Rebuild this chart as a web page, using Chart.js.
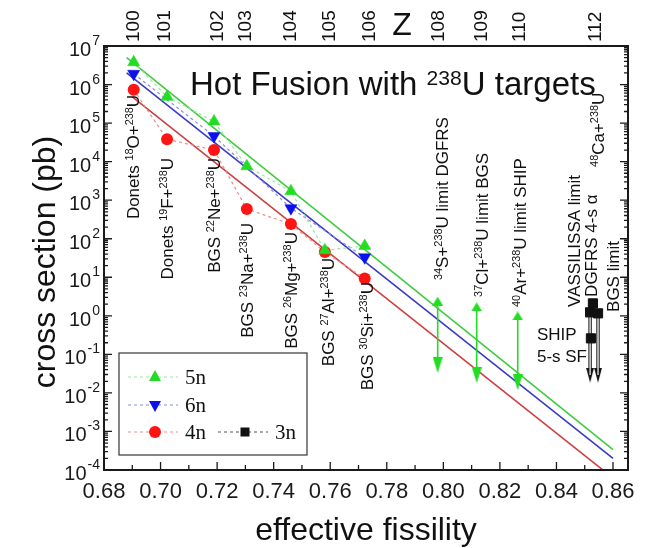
<!DOCTYPE html>
<html>
<head>
<meta charset="utf-8">
<script src="https://cdn.jsdelivr.net/npm/chart.js@4"></script>
<style>
  html, body { margin: 0; padding: 0; background: #fff; }
  #chart { display: block; }
</style>
</head>
<body>
<canvas id="chart" width="645" height="548"></canvas>
<script>
// cross sections (pb) against effective fissility
const fiss5n = [0.6905, 0.7023, 0.7189, 0.7305, 0.7461, 0.7581, 0.7722];
const sigma5n = [3.8e6, 4.8e5, 1.1e5, 7.6e3, 1.7e3, 50, 65];
const fiss6n = [0.6905, 0.7189, 0.7461, 0.7722];
const sigma6n = [1.9e6, 4.6e4, 620, 33];
const fiss4n = [0.6905, 0.7023, 0.7189, 0.7305, 0.7461, 0.7581, 0.7722];
const sigma4n = [7.3e5, 3.8e4, 2.0e4, 590, 240, 45, 9.3];
const fiss3n = [0.8529, 0.8519, 0.8547, 0.8522];
const sigma3n = [2.1, 1.23, 1.16, 0.26];

// straight-line systematics
const fitFiss = [0.688, 0.86];
const fit5n = [5e6, 3.4e-4];
const fit6n = [2e6, 2e-4];
const fitFiss4n = [0.69, 0.86];
const fit4n = [4.8e5, 6.2e-5];

// upper limits (green double arrows) and 48Ca arrows
const limitFiss = [0.798, 0.8118, 0.8263];
const limitHigh = [2.4, 1.7, 0.99];
const limitLow = [0.053, 0.029, 0.019];
const arrowFiss3n = [0.8519, 0.8547];
const arrowHigh3n = [1.23, 1.16];
const arrowLow3n = [0.029, 0.029];

// top axis: compound nucleus Z
const zLabels = ['100', '101', '102', '103', '104', '105', '106', '108', '109', '110', '112'];
const zFiss = [0.6899, 0.7009, 0.7196, 0.7295, 0.7454, 0.7592, 0.7733, 0.7977, 0.8130, 0.8264, 0.8533];

const xTicks = [0.68, 0.70, 0.72, 0.74, 0.76, 0.78, 0.80, 0.82, 0.84, 0.86];
const yExponents = [-4, -3, -2, -1, 0, 1, 2, 3, 4, 5, 6, 7];

// reaction labels (vertical text)
const reactionText = [
  'Donets ^{18}O+^{238}U',
  'Donets ^{19}F+^{238}U',
  'BGS ^{22}Ne+^{238}U',
  'BGS ^{23}Na+^{238}U',
  'BGS ^{26}Mg+^{238}U',
  'BGS ^{27}Al+^{238}U',
  'BGS ^{30}Si+^{238}U',
  '^{34}S+^{238}U limit DGFRS',
  '^{37}Cl+^{238}U limit BGS',
  '^{40}Ar+^{238}U limit SHIP',
  'VASSILISSA limit',
  'DGFRS 4-s \u03b1',
  '^{48}Ca+^{238}U',
  'BGS limit'
];
const reactionFiss = [0.6903, 0.7023, 0.7189, 0.7306, 0.7461, 0.7592, 0.7730, 0.7995, 0.8137, 0.8271, 0.8460, 0.8522, 0.8547, 0.8600];
const reactionSigma = [5.4e5, 1.24e4, 1.24e4, 256, 149, 31.6, 7.5, 8.5, 3.1, 1.7, 1.7, 3.1, 7.3e3, 1.26];
const reactionAlign = ['end', 'end', 'end', 'end', 'end', 'end', 'end', 'start', 'start', 'start', 'start', 'start', 'start', 'start'];

const SANS = '"Liberation Sans", Arial, sans-serif';
const SERIF = '"Liberation Serif", "Times New Roman", serif';

const GREEN = '#22dd22', BLUE = '#0a10ee', RED = '#ff1414';

function pts(xs, ys) {
    return xs.map((x, i) => ({ x: x, y: ys[i] }));
}

function arrowHead(w, h, color, down) {
    const c = document.createElement('canvas');
    c.width = w; c.height = h;
    const g = c.getContext('2d');
    g.fillStyle = color;
    g.beginPath();
    if (down) { g.moveTo(0, 0); g.lineTo(w, 0); g.lineTo(w / 2, h); }
    else { g.moveTo(w / 2, 0); g.lineTo(w, h); g.lineTo(0, h); }
    g.closePath();
    g.fill();
    return c;
}
const greenUp = arrowHead(11, 9, GREEN, false);
const greenDown = arrowHead(10, 16, GREEN, true);
const blackDown = arrowHead(8, 15, '#111', true);

function richSegments(str) {
    const out = [];
    const re = /\^\{([^}]*)\}/g;
    let last = 0, m;
    while ((m = re.exec(str))) {
        if (m.index > last) out.push([str.slice(last, m.index), false]);
        out.push([m[1], true]);
        last = re.lastIndex;
    }
    if (last < str.length) out.push([str.slice(last), false]);
    return out;
}

// text with ^{..} superscripts, optionally rotated to read upwards
function drawRich(ctx, str, x, y, size, rotate, align, raise) {
    const segs = richSegments(str);
    const sup = size * 0.64;
    const up = raise || 0.38;
    let total = 0;
    const widths = segs.map(s => {
        ctx.font = (s[1] ? sup : size) + 'px ' + SANS;
        const w = ctx.measureText(s[0]).width;
        total += w;
        return w;
    });
    ctx.save();
    ctx.translate(x, y);
    if (rotate) ctx.rotate(-Math.PI / 2);
    let cx = align === 'end' ? -total : (align === 'center' ? -total / 2 : 0);
    const base = rotate ? size * 0.36 : 0;
    ctx.textAlign = 'left';
    ctx.textBaseline = 'alphabetic';
    ctx.fillStyle = '#111';
    segs.forEach((s, i) => {
        ctx.font = (s[1] ? sup : size) + 'px ' + SANS;
        ctx.fillText(s[0], cx, s[1] ? base - size * up : base);
        cx += widths[i];
    });
    ctx.restore();
}

function drawMarker(ctx, kind, x, y, color) {
    ctx.fillStyle = color;
    ctx.beginPath();
    if (kind === 'up') {
        ctx.moveTo(x, y - 7); ctx.lineTo(x + 6, y + 4); ctx.lineTo(x - 6, y + 4);
    } else if (kind === 'down') {
        ctx.moveTo(x, y + 7); ctx.lineTo(x + 6, y - 4); ctx.lineTo(x - 6, y - 4);
    } else if (kind === 'circle') {
        ctx.arc(x, y, 6, 0, Math.PI * 2);
    } else {
        ctx.rect(x - 4.5, y - 4.5, 9, 9);
    }
    ctx.closePath();
    ctx.fill();
}

const decor = {
    id: 'decor',
    afterDatasetsDraw(chart) {
        const ctx = chart.ctx;
        const ca = chart.chartArea;
        const xs = chart.scales.x, ys = chart.scales.y;

        // frame
        ctx.save();
        ctx.strokeStyle = '#1a1a1a';
        ctx.lineWidth = 2;
        ctx.strokeRect(ca.left, ca.top, ca.right - ca.left, ca.bottom - ca.top);

        // inward ticks
        ctx.lineWidth = 1.3;
        ctx.beginPath();
        yExponents.forEach(e => {
            const p = ys.getPixelForValue(Math.pow(10, e));
            ctx.moveTo(ca.left, p); ctx.lineTo(ca.left + 8, p);
            ctx.moveTo(ca.right, p); ctx.lineTo(ca.right - 8, p);
            if (e < 7) {
                for (let m = 2; m <= 9; m++) {
                    const q = ys.getPixelForValue(m * Math.pow(10, e));
                    ctx.moveTo(ca.left, q); ctx.lineTo(ca.left + 4, q);
                    ctx.moveTo(ca.right, q); ctx.lineTo(ca.right - 4, q);
                }
            }
        });
        xTicks.forEach(v => {
            const p = xs.getPixelForValue(v);
            ctx.moveTo(p, ca.bottom); ctx.lineTo(p, ca.bottom - 8);
            const q = xs.getPixelForValue(v + 0.01);
            if (q < ca.right) { ctx.moveTo(q, ca.bottom); ctx.lineTo(q, ca.bottom - 5); }
        });
        ctx.stroke();

        // tick labels
        ctx.fillStyle = '#1a1a1a';
        ctx.textBaseline = 'alphabetic';
        ctx.font = '22px ' + SANS;
        ctx.textAlign = 'center';
        xTicks.forEach(v => ctx.fillText(v.toFixed(2), xs.getPixelForValue(v), ca.bottom + 28));
        yExponents.forEach(e => {
            const p = ys.getPixelForValue(Math.pow(10, e));
            const ex = String(e);
            ctx.font = '14px ' + SANS;
            const we = ctx.measureText(ex).width;
            ctx.font = '20px ' + SANS;
            const wb = ctx.measureText('10').width;
            const x0 = ca.left - 5 - we - wb;
            ctx.textAlign = 'left';
            ctx.fillText('10', x0, p + 10);
            ctx.font = '14px ' + SANS;
            ctx.fillText(ex, x0 + wb + 1, p - 1);
        });

        // top Z axis
        zLabels.forEach((z, i) => drawRich(ctx, z, xs.getPixelForValue(zFiss[i]), ca.top - 4, 19, true, 'start'));
        ctx.font = '32px ' + SANS;
        ctx.textAlign = 'center';
        ctx.fillStyle = '#111';
        ctx.fillText('Z', xs.getPixelForValue(0.7854), ca.top - 11);

        // axis titles and headline
        drawRich(ctx, 'cross section (pb)', 43, (ca.top + ca.bottom) / 2 + 4, 32, true, 'center');
        drawRich(ctx, 'effective fissility', (ca.left + ca.right) / 2, ca.bottom + 70, 32, false, 'center');
        drawRich(ctx, 'Hot Fusion with ^{238}U targets', ca.left + 86, ca.top + 49, 33, false, 'start', 0.3);

        // reaction labels
        reactionText.forEach((t, i) => {
            drawRich(ctx, t, xs.getPixelForValue(reactionFiss[i]), ys.getPixelForValue(reactionSigma[i]), 17, true, reactionAlign[i]);
        });
        ctx.font = '17px ' + SANS;
        ctx.textAlign = 'left';
        ctx.fillStyle = '#111';
        ctx.fillText('SHIP', xs.getPixelForValue(0.8331), ys.getPixelForValue(0.236));
        ctx.fillText('5-s SF', xs.getPixelForValue(0.8331), ys.getPixelForValue(0.063));

        // legend box
        const lx = ca.left + 15, ly = ca.bottom - 117;
        ctx.fillStyle = '#fff';
        ctx.fillRect(lx, ly, 188, 102);
        ctx.strokeStyle = '#444';
        ctx.lineWidth = 1.3;
        ctx.strokeRect(lx, ly, 188, 102);
        const rows = [
            [lx + 9, ly + 24, '#9be89b', GREEN, 'up', '5n'],
            [lx + 9, ly + 52, '#8c8ce6', BLUE, 'down', '6n'],
            [lx + 9, ly + 79, '#e89090', RED, 'circle', '4n'],
            [lx + 99, ly + 79, '#555', '#111', 'rect', '3n']
        ];
        rows.forEach(r => {
            ctx.strokeStyle = r[2];
            ctx.lineWidth = 1.2;
            ctx.setLineDash([3, 3]);
            ctx.beginPath();
            ctx.moveTo(r[0], r[1]); ctx.lineTo(r[0] + 50, r[1]);
            ctx.stroke();
            ctx.setLineDash([]);
            drawMarker(ctx, r[4], r[0] + 27, r[1], r[3]);
            ctx.fillStyle = '#111';
            ctx.font = '21px ' + SERIF;
            ctx.textAlign = 'left';
            ctx.fillText(r[5], r[0] + 57, r[1] + 7);
        });
        ctx.restore();
    }
};

const datasets = [
    // markers with dashed connectors (first = drawn on top)
    { data: pts(fiss3n, sigma3n), showLine: false, pointStyle: 'rect', pointRadius: 6.5,
      backgroundColor: '#111', borderColor: '#111', order: 0 },
    { data: pts(fiss5n, sigma5n), showLine: true, borderColor: '#9be89b', borderWidth: 1.2, borderDash: [3, 3],
      pointStyle: 'triangle', pointRadius: 7, pointBorderWidth: 0.5, pointBackgroundColor: GREEN, pointBorderColor: GREEN, order: 1 },
    { data: pts(fiss6n, sigma6n), showLine: true, borderColor: '#8c8ce6', borderWidth: 1.2, borderDash: [3, 3],
      pointStyle: 'triangle', pointRotation: 180, pointRadius: 7, pointBorderWidth: 0.5, pointBackgroundColor: BLUE, pointBorderColor: BLUE, order: 2 },
    { data: pts(fiss4n, sigma4n), showLine: true, borderColor: '#e89090', borderWidth: 1.2, borderDash: [3, 3],
      pointStyle: 'circle', pointRadius: 6, pointBorderWidth: 0, pointBackgroundColor: RED, pointBorderColor: RED, order: 3 }
];

limitFiss.forEach((f, i) => {
    datasets.push({ data: [{ x: f, y: limitHigh[i] }, { x: f, y: limitLow[i] }], showLine: true,
        borderColor: GREEN, borderWidth: 1.6, pointStyle: [greenUp, greenDown], pointRadius: 6, order: 4 });
});
arrowFiss3n.forEach((f, i) => {
    const d = [{ x: f, y: arrowHigh3n[i] }, { x: f, y: arrowLow3n[i] }];
    datasets.push({ data: d, showLine: true, borderColor: '#fff', borderWidth: 1.2, pointRadius: 0, order: 5 });
    datasets.push({ data: d, showLine: true, borderColor: '#333', borderWidth: 3.6,
        pointStyle: [false, blackDown], pointRadius: [0, 6], order: 6 });
});

datasets.push(
    { data: pts(fitFiss, fit5n), showLine: true, borderColor: '#3fcc3f', borderWidth: 1.6, pointRadius: 0, order: 10 },
    { data: pts(fitFiss, fit6n), showLine: true, borderColor: '#3a3ac8', borderWidth: 1.6, pointRadius: 0, order: 11 },
    { data: pts(fitFiss4n, fit4n), showLine: true, borderColor: '#cc4040', borderWidth: 1.6, pointRadius: 0, order: 12 }
);

const chart = new Chart(document.getElementById('chart').getContext('2d'), {
    type: 'scatter',
    data: { datasets: datasets },
    options: {
        responsive: false,
        animation: false,
        layout: { padding: { left: 0, top: 46, right: 17, bottom: 0 } },
        plugins: { legend: { display: false }, tooltip: { enabled: false } },
        scales: {
            x: {
                type: 'linear', min: 0.68, max: 0.8653,
                ticks: { display: false }, grid: { display: false }, border: { display: false },
                afterFit: s => { s.height = 78; }
            },
            y: {
                type: 'logarithmic', min: 1e-4, max: 1e7,
                ticks: { display: false }, grid: { display: false }, border: { display: false },
                afterFit: s => { s.width = 104; }
            }
        }
    },
    plugins: [decor]
});
</script>
</body>
</html>
